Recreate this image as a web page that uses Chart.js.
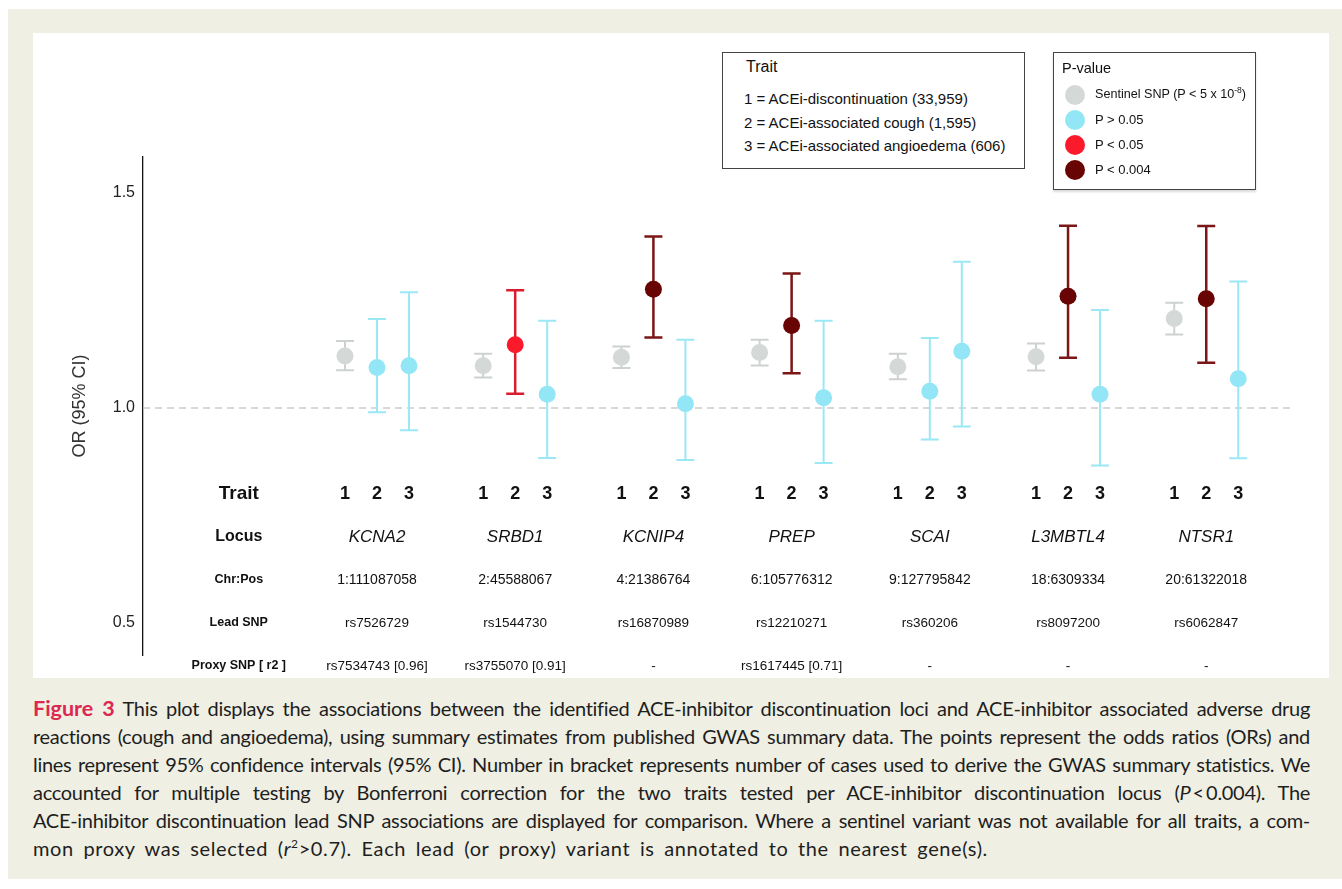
<!DOCTYPE html>
<html>
<head>
<meta charset="utf-8">
<script src="https://cdn.jsdelivr.net/npm/chart.js@4.4.0/dist/chart.umd.min.js"></script>
<style>
  html, body { margin: 0; padding: 0; background: #fff; }
  body { width: 1342px; height: 889px; position: relative; overflow: hidden;
         font-family: "Liberation Sans", Arial, sans-serif; color: #111; }
  #page { position: absolute; left: 8px; top: 9px; width: 1334px; height: 870px; background: #efefe3; }
  #panel { position: absolute; left: 33px; top: 33px; width: 1296px; height: 645px; background: #fff; }
  .box { position: absolute; border: 1.5px solid #444; box-sizing: border-box; background: #fff; }
  .box div { position: absolute; white-space: nowrap; line-height: 1; }
  .dot { width: 20px; height: 20px; border-radius: 50%; }
  sup { line-height: 0; }
  #caption { position: absolute; left: 33px; top: 694px; width: 1277px;
             font-family: Lato, "Open Sans", sans-serif; font-size: 20px; line-height: 28px; color: #1e1e1e; }
  #caption div { height: 28px; white-space: nowrap; text-align: justify; text-align-last: justify; letter-spacing: -0.3px; }
  #caption div.last { text-align-last: left; letter-spacing: 0.6px; word-spacing: 4px; }
  #caption b { color: #dc2752; font-size: 21.5px; letter-spacing: 0; }
</style>
</head>
<body>
<div id="page"></div>
<div id="panel"><canvas id="chart" width="1296" height="645"></canvas></div>

<div class="box" style="left:722px; top:52px; width:303px; height:117px;">
  <div style="left:23px; top:6px; font-size:16px;">Trait</div>
  <div style="left:21px; top:38px; font-size:15px;">1 = ACEi-discontinuation (33,959)</div>
  <div style="left:21px; top:62px; font-size:15px;">2 = ACEi-associated cough (1,595)</div>
  <div style="left:21px; top:85px; font-size:15px;">3 = ACEi-associated angioedema (606)</div>
</div>

<div class="box" style="left:1053px; top:52px; width:203px; height:138px; box-shadow: 0 2px 2px rgba(0,0,0,0.15);">
  <div style="left:8px; top:8px; font-size:14.5px;">P-value</div>
  <div class="dot" style="left:11px; top:32px; background:#d4d9d7;"></div>
  <div style="left:41px; top:35px; font-size:12.6px;">Sentinel SNP (P &lt; 5 x 10<sup style="font-size:8.5px;">-8</sup>)</div>
  <div class="dot" style="left:11px; top:57px; background:#93e6f5;"></div>
  <div style="left:41px; top:60px; font-size:13px;">P &gt; 0.05</div>
  <div class="dot" style="left:11px; top:82px; background:#fb1a2c;"></div>
  <div style="left:41px; top:85px; font-size:13px;">P &lt; 0.05</div>
  <div class="dot" style="left:11px; top:107px; background:#680404;"></div>
  <div style="left:41px; top:110px; font-size:13px;">P &lt; 0.004</div>
</div>

<div id="caption">
  <div><b>Figure 3</b> This plot displays the associations between the identified ACE-inhibitor discontinuation loci and ACE-inhibitor associated adverse drug</div>
  <div>reactions (cough and angioedema), using summary estimates from published GWAS summary data. The points represent the odds ratios (ORs) and</div>
  <div>lines represent 95% confidence intervals (95% CI). Number in bracket represents number of cases used to derive the GWAS summary statistics. We</div>
  <div>accounted for multiple testing by Bonferroni correction for the two traits tested per ACE-inhibitor discontinuation locus (<i>P</i>&thinsp;&lt;&thinsp;0.004). The</div>
  <div>ACE-inhibitor discontinuation lead SNP associations are displayed for comparison. Where a sentinel variant was not available for all traits, a com-</div>
  <div class="last">mon proxy was selected (<i>r</i><sup style="font-size:12px;">2</sup>&gt;0.7). Each lead (or proxy) variant is annotated to the nearest gene(s).</div>
</div>

<script>
// loci and table rows
const loci = ["KCNA2", "SRBD1", "KCNIP4", "PREP", "SCAI", "L3MBTL4", "NTSR1"];
const chrPos = ["1:111087058", "2:45588067", "4:21386764", "6:105776312", "9:127795842", "18:6309334", "20:61322018"];
const leadSnp = ["rs7526729", "rs1544730", "rs16870989", "rs12210271", "rs360206", "rs8097200", "rs6062847"];
const proxySnp = ["rs7534743 [0.96]", "rs3755070 [0.91]", "-", "rs1617445 [0.71]", "-", "-", "-"];
const traitLabels = ["1", "2", "3"];

// odds ratios with 95% CI, one set per trait
const trait1OR = [1.121, 1.098, 1.118, 1.129, 1.096, 1.119, 1.208];
const trait1Lo = [1.088, 1.071, 1.093, 1.099, 1.067, 1.087, 1.171];
const trait1Hi = [1.156, 1.126, 1.143, 1.159, 1.126, 1.150, 1.245];
const trait2OR = [1.094, 1.147, 1.276, 1.192, 1.039, 1.260, 1.254];
const trait2Lo = [0.990, 1.033, 1.164, 1.081, 0.927, 1.117, 1.105];
const trait2Hi = [1.207, 1.274, 1.399, 1.313, 1.163, 1.424, 1.423];
const trait3OR = [1.098, 1.032, 1.010, 1.024, 1.132, 1.032, 1.068];
const trait3Lo = [0.948, 0.884, 0.879, 0.872, 0.957, 0.866, 0.883];
const trait3Hi = [1.269, 1.203, 1.159, 1.203, 1.340, 1.228, 1.294];

// p-value class of each point
const trait1P = ["sentinel", "sentinel", "sentinel", "sentinel", "sentinel", "sentinel", "sentinel"];
const trait2P = ["ns", "p05", "p004", "p004", "ns", "p004", "p004"];
const trait3P = ["ns", "ns", "ns", "ns", "ns", "ns", "ns"];

const yTicks = [0.5, 1.0, 1.5];

const style = {
  sentinel: { point: "#d4d9d7", line: "#cdd2d0", width: 2 },
  ns:       { point: "#93e6f5", line: "#9be8f5", width: 2 },
  p05:      { point: "#fb1a2c", line: "#d91c30", width: 2.5 },
  p004:     { point: "#680404", line: "#7a1616", width: 2.5 }
};
const traitGap = 0.2315;
const capHalf = 9;

function makeSet(or, lo, hi, pClass, j) {
  return {
    type: "scatter",
    order: 0,
    pClass: pClass,
    data: or.map((v, i) => ({ x: i + (j - 1) * traitGap, y: v, lo: lo[i], hi: hi[i] })),
    pointRadius: 8.5,
    pointBorderWidth: 0,
    pointBackgroundColor: ctx => style[pClass[ctx.dataIndex]].point
  };
}

const errorBars = {
  id: "errorBars",
  afterDatasetDraw(chart, args) {
    if (args.index !== 0) return; // draw the bars right after the reference line
    const { ctx, scales: { x, y } } = chart;
    chart.data.datasets.forEach(ds => {
      if (!ds.pClass) return;
      ds.data.forEach((d, k) => {
        const st = style[ds.pClass[k]];
        const px = x.getPixelForValue(d.x);
        const top = y.getPixelForValue(d.hi), bot = y.getPixelForValue(d.lo);
        ctx.save();
        ctx.strokeStyle = st.line;
        ctx.lineWidth = st.width;
        ctx.beginPath();
        ctx.moveTo(px, top); ctx.lineTo(px, bot);
        ctx.moveTo(px - capHalf, top); ctx.lineTo(px + capHalf, top);
        ctx.moveTo(px - capHalf, bot); ctx.lineTo(px + capHalf, bot);
        ctx.stroke();
        ctx.restore();
      });
    });
  }
};

const tableText = {
  id: "tableText",
  afterDraw(chart) {
    const { ctx, scales: { x, y } } = chart;
    const labelX = x.getPixelForValue(-1);
    const F = "'Liberation Sans', Arial, sans-serif";
    ctx.save();
    ctx.fillStyle = "#111";
    ctx.textAlign = "center";
    ctx.textBaseline = "middle";
    const row = (v, label, labelFont, texts, font, offsets) => {
      const py = y.getPixelForValue(v);
      ctx.font = labelFont;
      ctx.fillText(label, labelX, py);
      ctx.font = font;
      loci.forEach((_, i) => {
        offsets.forEach((o, j) => ctx.fillText(texts(i, j), x.getPixelForValue(i + o * traitGap), py));
      });
    };
    row(0.8, "Trait", "bold 19px " + F, (i, j) => traitLabels[j], "bold 18px " + F, [-1, 0, 1]);
    row(0.7, "Locus", "bold 16px " + F, i => loci[i], "italic 17px " + F, [0]);
    row(0.6, "Chr:Pos", "bold 12.5px " + F, i => chrPos[i], "14px " + F, [0]);
    row(0.5, "Lead SNP", "bold 12.5px " + F, i => leadSnp[i], "13.5px " + F, [0]);
    row(0.4, "Proxy SNP [ r2 ]", "bold 12.5px " + F, i => proxySnp[i], "13.5px " + F, [0]);
    ctx.restore();
  }
};

const xMin = -1.693, xMax = 6.606;

new Chart(document.getElementById("chart"), {
  type: "scatter",
  data: {
    datasets: [
      {
        type: "line",
        order: 1,
        data: [{ x: xMin, y: 1 }, { x: xMax, y: 1 }],
        borderColor: "#cccccc",
        borderWidth: 1.5,
        borderDash: [7, 5],
        pointRadius: 0
      },
      makeSet(trait1OR, trait1Lo, trait1Hi, trait1P, 0),
      makeSet(trait2OR, trait2Lo, trait2Hi, trait2P, 1),
      makeSet(trait3OR, trait3Lo, trait3Hi, trait3P, 2)
    ]
  },
  options: {
    responsive: false,
    animation: false,
    layout: { padding: { left: 0, top: 124, right: 39, bottom: 23 } },
    plugins: { legend: { display: false }, tooltip: { enabled: false } },
    scales: {
      x: { type: "linear", min: xMin, max: xMax, display: false },
      y: {
        min: 0.4256,
        max: 1.5837,
        afterFit: s => { s.width = 110; },
        afterBuildTicks: s => { s.ticks = yTicks.map(v => ({ value: v })); },
        grid: { display: false, drawTicks: false, tickLength: 0 },
        border: { display: true, color: "#111", width: 1.3 },
        ticks: {
          padding: 8,
          color: "#222",
          font: { family: "'Liberation Sans', Arial, sans-serif", size: 16 },
          callback: v => v.toFixed(1)
        },
        title: {
          display: true,
          text: "OR (95% CI)",
          color: "#333",
          padding: { top: 36, bottom: 0 },
          font: { family: "'Liberation Sans', Arial, sans-serif", size: 18 }
        }
      }
    }
  },
  plugins: [errorBars, tableText]
});
</script>
</body>
</html>
